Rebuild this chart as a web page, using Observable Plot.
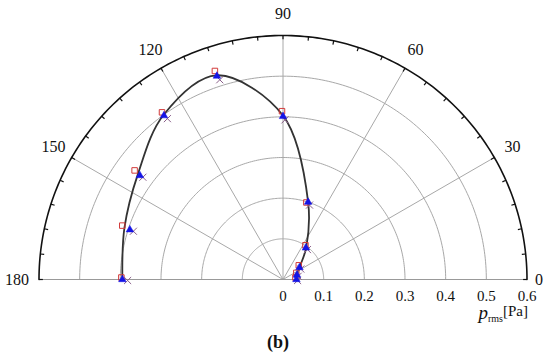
<!DOCTYPE html>
<html>
<head>
<meta charset="utf-8">
<script src="https://cdn.jsdelivr.net/npm/d3@7"></script>
<script src="https://cdn.jsdelivr.net/npm/@observablehq/plot@0.6"></script>
<style>
  body { margin: 0; background: #fff; }
  #chart { width: 550px; }
  .cap { width: 550px; text-align: center; font-family: "Liberation Serif", "Times New Roman", serif; font-weight: bold; font-size: 18px; line-height: 32px; padding-left: 6px; box-sizing: border-box; color: #111; }
</style>
</head>
<body>
<div id="chart"></div>
<script>
// ---- data (angle in degrees, p_rms in Pa) ----
const angles   = [0, 18, 36, 54, 72, 90, 108, 126, 144, 162, 180];
const triangle = [0.033, 0.036, 0.050, 0.096, 0.200, 0.401, 0.526, 0.498, 0.435, 0.396, 0.395];
const square   = [0.033, 0.037, 0.051, 0.098, 0.194, 0.409, 0.534, 0.502, 0.448, 0.413, 0.395];
const cross    = [0.031, 0.034, 0.048, 0.094, 0.195, 0.395, 0.519, 0.492, 0.432, 0.392, 0.387];
const fitCurve = [0.033, 0.036, 0.050, 0.097, 0.200, 0.403, 0.528, 0.500, 0.441, 0.410, 0.395];
const ringValues  = [0.1, 0.2, 0.3, 0.4, 0.5];
const rMax = 0.6;
const spokeAngles = [30, 60, 90, 120, 150];
const angleLabels = [0, 30, 60, 90, 120, 150, 180];
const radialTicks = [0, 0.1, 0.2, 0.3, 0.4, 0.5, 0.6];
const radialTickLabels = ["0", "0.1", "0.2", "0.3", "0.4", "0.5", "0.6"];

const rad = d => d * Math.PI / 180;
const toXY = (a, r) => ({x: r * Math.cos(rad(a)), y: r * Math.sin(rad(a))});
const series = vals => angles.map((a, i) => ({a, r: vals[i], ...toXY(a, vals[i])}));

const arc = r => d3.range(0, 181, 1).map(a => ({r, ...toXY(a, r)}));
const rings = ringValues.flatMap(arc);
const outer = arc(rMax);
const ticks = d3.range(0, 181, 6).map(a => ({a, p1: toXY(a, rMax), p2: toXY(a, rMax - 0.0095)}));
const spokes = spokeAngles.map(a => ({a, p: toXY(a, rMax)}));
const labelR = 0.652;
const midAngles = angleLabels.filter(a => a > 0 && a < 180);

const serif = "'Liberation Serif', 'Times New Roman', serif";

const plot = Plot.plot({
  width: 550,
  height: 326,
  marginLeft: 38.5,
  marginRight: 23.5,
  marginTop: 35,
  marginBottom: 47,
  x: {domain: [-rMax, rMax], axis: null},
  y: {domain: [0, rMax], axis: null},
  style: {fontFamily: serif, background: "white", overflow: "visible"},
  marks: [
    Plot.line(rings, {x: "x", y: "y", z: "r", stroke: "#a8a8a8", strokeWidth: 1}),
    Plot.link(spokes, {x1: 0, y1: 0, x2: d => d.p.x, y2: d => d.p.y, stroke: "#a8a8a8", strokeWidth: 1}),
    Plot.link([0], {x1: -rMax, y1: 0, x2: rMax, y2: 0, stroke: "#999", strokeWidth: 1}),
    Plot.line(outer, {x: "x", y: "y", stroke: "#111", strokeWidth: 1.6}),
    Plot.link(ticks, {x1: d => d.p1.x, y1: d => d.p1.y, x2: d => d.p2.x, y2: d => d.p2.y, stroke: "#111", strokeWidth: 1.2}),
    Plot.text(midAngles, {x: a => labelR * Math.cos(rad(a)), y: a => labelR * Math.sin(rad(a)), text: a => String(a), fontSize: 16, fill: "#111", fontFamily: serif}),
    Plot.text([angleLabels[0]], {x: rMax, y: 0, text: a => String(a), textAnchor: "start", dx: 8, fontSize: 16, fill: "#111", fontFamily: serif}),
    Plot.text([angleLabels[angleLabels.length - 1]], {x: -rMax, y: 0, text: a => String(a), textAnchor: "end", dx: -10, fontSize: 16, fill: "#111", fontFamily: serif}),
    Plot.text(radialTicks, {x: d => d, y: 0, text: (d, i) => radialTickLabels[i], dy: 17, fontSize: 15, fill: "#111", fontFamily: serif}),
    Plot.text(["p_rms"], {x: rMax, y: 0, text: d => d, dy: 35, dx: 1, textAnchor: "end", fontSize: 15, fill: "#111", fontFamily: serif}),
    Plot.line(series(fitCurve), {x: "x", y: "y", curve: "catmull-rom", stroke: "#333", strokeWidth: 1.8}),
    Plot.dot(series(square), {x: "x", y: "y", symbol: "square", r: 3.1, stroke: "#d23a3a", fill: "none", strokeWidth: 1, dx: -1, dy: -2}),
    Plot.dot(series(cross), {x: "x", y: "y", symbol: "times", r: 3.3, stroke: "#8a5f8a", strokeWidth: 1, dx: 2, dy: 1}),
    Plot.dot(series(triangle), {x: "x", y: "y", symbol: "triangle", r: 2.8, fill: "#1414e6", stroke: "#1414e6", strokeWidth: 0.5})
  ]
});

// rich text for the axis label
d3.select(plot).selectAll("text").filter(function() { return this.textContent === "p_rms"; })
  .each(function() {
    const t = d3.select(this);
    t.text("");
    t.append("tspan").attr("font-style", "italic").attr("font-size", 19).text("p");
    t.append("tspan").attr("font-size", 10).attr("dy", "0.3em").text("rms");
    t.append("tspan").attr("dy", "-0.45em").text("[Pa]");
  });

document.getElementById("chart").appendChild(plot);
const cap = document.createElement("div");
cap.className = "cap";
cap.textContent = "(b)";
document.body.appendChild(cap);
</script>
</body>
</html>
